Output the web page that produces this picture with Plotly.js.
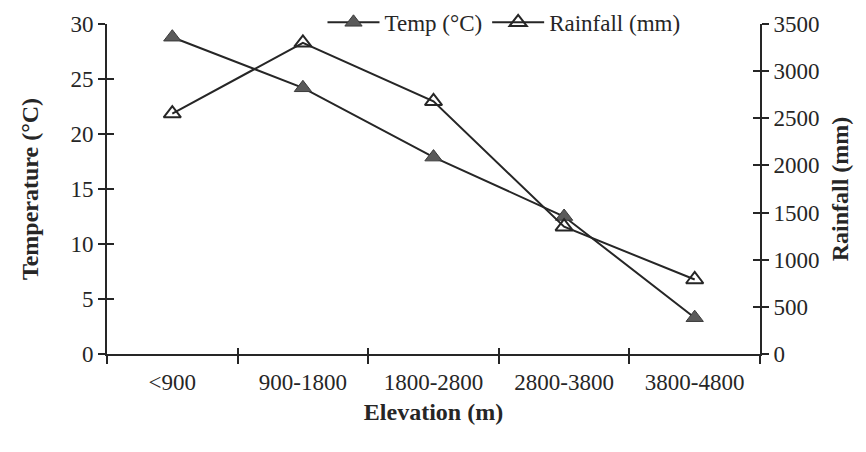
<!DOCTYPE html>
<html>
<head>
<meta charset="utf-8">
<script src="https://cdn.plot.ly/plotly-3.0.1.min.js"></script>
<style>html,body{margin:0;padding:0;background:#fff;}#chart{width:866px;height:452px;}</style>
</head>
<body>
<div id="chart"></div>
<script>
const categories = ["<900", "900-1800", "1800-2800", "2800-3800", "3800-4800"];
const tempValues = [28.8, 24.2, 17.9, 12.5, 3.3];
const rainfallValues = [2550, 3300, 2680, 1350, 790];
const tempTicks = [0, 5, 10, 15, 20, 25, 30];
const rainTicks = [0, 500, 1000, 1500, 2000, 2500, 3000, 3500];

const ink = '#262626';
const font = {family: '"Liberation Serif", "Times New Roman", serif', size: 23, color: ink};
const titleFont = Object.assign({}, font, {size: 24, weight: 'bold'});

const traces = [
  {
    x: categories, y: tempValues, name: 'Temp (°C)', type: 'scatter', mode: 'lines+markers',
    line: {color: ink, width: 2},
    marker: {symbol: 'triangle-up', size: 15, color: '#5a5a5a', line: {color: '#3a3a3a', width: 1}},
    yaxis: 'y'
  },
  {
    x: categories, y: rainfallValues, name: 'Rainfall (mm)', type: 'scatter', mode: 'lines+markers',
    line: {color: ink, width: 2},
    marker: {symbol: 'triangle-up-open', size: 15, color: ink, line: {width: 2}},
    yaxis: 'y2'
  }
];

const common = {showgrid: false, zeroline: false, linecolor: ink, linewidth: 2, tickcolor: ink, tickwidth: 2, tickfont: font};

const layout = {
  width: 866, height: 452,
  margin: {l: 107, r: 106, t: 24, b: 98, autoexpand: false},
  paper_bgcolor: '#fff', plot_bgcolor: '#fff',
  font: font,
  showlegend: true,
  legend: {orientation: 'h', x: 0.33, xanchor: 'left', y: 1.005, yanchor: 'middle', bgcolor: 'rgba(0,0,0,0)', font: font, itemwidth: 52, tracegroupgap: 0},
  xaxis: Object.assign({}, common, {
    type: 'category', tickson: 'boundaries', ticks: 'outside', ticklen: 8,
    range: [-0.5, 4.5], showline: true, mirror: false,
    title: {text: 'Elevation (m)', font: titleFont, standoff: 10},
    ticklabelstandoff: 6
  }),
  xaxis2: Object.assign({}, common, {
    type: 'category', tickson: 'boundaries', ticks: 'inside', ticklen: 6,
    range: [-0.5, 4.5], overlaying: 'x', showline: false, showticklabels: false, matches: 'x'
  }),
  yaxis: Object.assign({}, common, {
    range: [0, 30], tickvals: tempTicks, ticks: 'outside', ticklen: 7, showline: true,
    title: {text: 'Temperature (°C)', font: titleFont, standoff: 25}
  }),
  yaxis2: Object.assign({}, common, {
    range: [0, 3500], tickvals: rainTicks, ticks: 'outside', ticklen: 7, showline: true,
    overlaying: 'y', side: 'right',
    title: {text: 'Rainfall (mm)', font: titleFont, standoff: 13}
  }),
  yaxis3: Object.assign({}, common, {
    range: [0, 30], tickvals: tempTicks, ticks: 'inside', ticklen: 7, showline: false,
    overlaying: 'y', side: 'left', showticklabels: false
  }),
  yaxis4: Object.assign({}, common, {
    range: [0, 3500], tickvals: rainTicks, ticks: 'inside', ticklen: 7, showline: false,
    overlaying: 'y', side: 'right', showticklabels: false
  })
};

// invisible helper traces so the inner-tick axes are drawn
traces.push({x: categories, y: tempValues, xaxis: 'x2', yaxis: 'y3', type: 'scatter', mode: 'none', showlegend: false, hoverinfo: 'skip'});
traces.push({x: categories, y: rainfallValues, xaxis: 'x2', yaxis: 'y4', type: 'scatter', mode: 'none', showlegend: false, hoverinfo: 'skip'});

Plotly.newPlot('chart', traces, layout, {displayModeBar: false, staticPlot: true});
</script>
</body>
</html>
